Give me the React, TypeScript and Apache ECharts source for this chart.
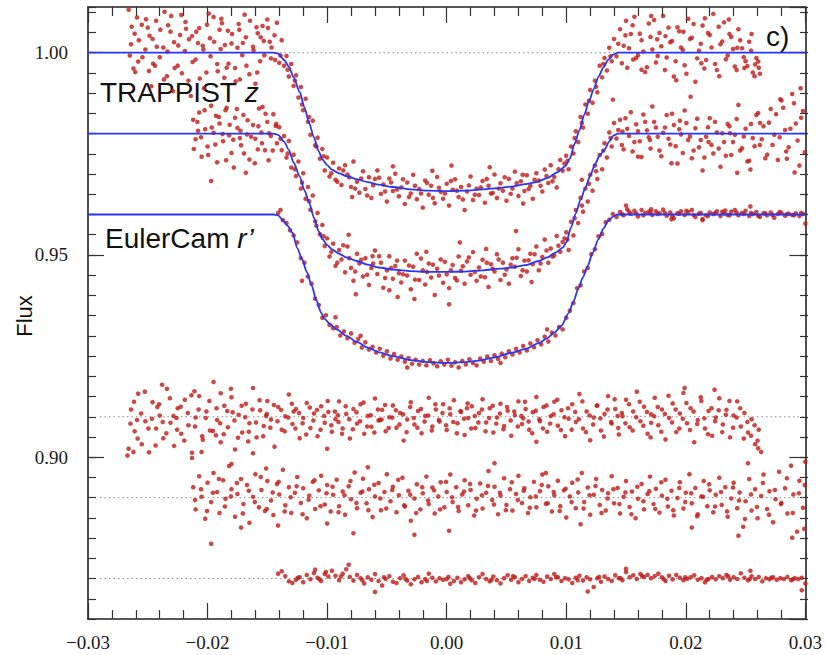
import React, { useEffect, useRef } from "react";
import * as echarts from "echarts";

// ---------- axis settings ----------
const xMin = -0.03;
const xMax = 0.03;
const xMajor = 0.01;
const yMin = 0.86;
const yMax = 1.0113;
const yMinor = 0.005;

// ---------- dotted reference levels (residual zero lines) ----------
const baselineLevels = [1.0, 0.91, 0.89, 0.87];
const baselineStart = -0.029;

// ---------- labels ----------
const yTitle = "Flux";
const panelTag = "c)";
const labelTop = ["TRAPPIST ", "z"];
const labelBottom = ["EulerCam ", "r\u2019"];

// ---------- model curves (blue) ----------
const model1: number[][] = [
  [-.03, 1.0], [-.0145, 1.0], [-.0141, .9998], [-.0136, .9982], [-.0132, .9966], [-.0128, .9939], [-.0123, .9903],
  [-.0119, .9865], [-.0115, .9826], [-.0111, .9790], [-.0107, .9756], [-.0104, .9736], [-.0100, .9722],
  [-.0096, .9711], [-.0090, .9702], [-.0084, .9695], [-.0075, .9687], [-.0066, .9680], [-.0057, .9674],
  [-.0045, .9668], [-.0030, .9662], [-.0015, .9659], [0, .9658], [.0015, .9659], [.0030, .9662],
  [.0045, .9666], [.0054, .9669], [.0066, .9675], [.0075, .9680], [.0084, .9690], [.0093, .9705],
  [.0099, .9719], [.0103, .9738], [.0107, .9775], [.0111, .9808], [.0115, .9846], [.0119, .9880],
  [.0123, .9910], [.0127, .9941], [.0131, .9963], [.0135, .9982], [.0139, .9995], [.0143, 1.0],
  [.03, 1.0],
];
const model2: number[][] = [
  [-.03, .98], [-.0145, .98], [-.0141, .9797], [-.0136, .9780], [-.0132, .9760], [-.0128, .9728], [-.0123, .9695],
  [-.0119, .9660], [-.0115, .9629], [-.0111, .9592], [-.0107, .9558], [-.0104, .9539], [-.0100, .9525],
  [-.0096, .9514], [-.0090, .9503], [-.0084, .9494], [-.0075, .9485], [-.0066, .9476], [-.0057, .9469],
  [-.0045, .9464], [-.0030, .9460], [-.0015, .9458], [0, .9458], [.0015, .9459], [.0030, .9462],
  [.0045, .9466], [.0054, .9469], [.0066, .9475], [.0077, .9485], [.0084, .9494], [.0091, .9506],
  [.0097, .9518], [.0100, .9531], [.0104, .9568], [.0108, .9603], [.0112, .9637], [.0116, .9666],
  [.0120, .9696], [.0124, .9724], [.0128, .9746], [.0132, .9760], [.0136, .9781], [.0140, .9796],
  [.0143, .98], [.03, .98],
];
const model3: number[][] = [
  [-.03, .96], [-.0145, .96], [-.0141, .9598], [-.0137, .9586], [-.0133, .9572], [-.0129, .9555], [-.0125, .9517],
  [-.0121, .9490], [-.0117, .9458], [-.0113, .9425], [-.0109, .9388], [-.0105, .9357], [-.0102, .9342],
  [-.0098, .9330], [-.0092, .9316], [-.0084, .9300], [-.0075, .9285], [-.0066, .9271], [-.0057, .9260],
  [-.0045, .9250], [-.0030, .9240], [-.0015, .9235], [0, .9233], [.0015, .9235], [.0027, .9239],
  [.0040, .9247], [.0054, .9258], [.0066, .9268], [.0077, .9282], [.0084, .9294], [.0090, .9308],
  [.0096, .9325], [.0102, .9356], [.0106, .9385], [.0110, .9416], [.0114, .9445], [.0118, .9473],
  [.0122, .9505], [.0127, .9539], [.0131, .9565], [.0135, .9584], [.0139, .9595], [.0143, .96],
  [.03, .96],
];

// ---------- TRAPPIST z light curve ----------
const trappistZ: number[][] = [
  [-.0266, 1.0106], [-.0264, 1.0021], [-.0261, 1.0047], [-.0258, .9978], [-.0255, 1.0069], [-.0252, 1.0008],
  [-.0249, .9955], [-.0246, 1.0034], [-.0243, 1.0079], [-.0240, .9989], [-.0237, 1.0013], [-.0234, .9942],
  [-.0231, 1.0052], [-.0228, 1.0026], [-.0225, .9968], [-.0222, 1.0093], [-.0219, 1.0004], [-.0216, .9931],
  [-.0213, 1.0041], [-.0210, .9983], [-.0207, 1.0061], [-.0204, 1.0017], [-.0201, .9951], [-.0198, 1.0036],
  [-.0195, 1.0088], [-.0192, .9972], [-.0189, 1.0009], [-.0186, .9938], [-.0183, 1.0054], [-.0180, 1.0023],
  [-.0177, .9962], [-.0174, 1.0071], [-.0171, .9994], [-.0168, 1.0038], [-.0165, .9947], [-.0162, 1.0015],
  [-.0159, 1.0063], [-.0156, .9979], [-.0153, 1.0029], [-.0150, 1.0082], [-.0147, .9986], [-.0144, 1.0043],
  [-.0265, .9993], [-.0259, 1.0087], [-.0250, 1.0062], [-.0244, .9968], [-.0236, 1.0101], [-.0229, .9905],
  [-.0223, 1.0044], [-.0214, .9893], [-.0208, 1.0024], [-.0199, 1.0097], [-.0190, 1.0057], [-.0184, .9963],
  [-.0175, 1.0012], [-.0169, 1.0094], [-.0160, .9923], [-.0154, 1.0066], [-.0148, 1.0027], [-.0142, 1.0074],
  [-.0262, .9961], [-.0247, .9917], [-.0233, 1.0068], [-.0218, 1.0059], [-.0203, .9912], [-.0188, 1.0073],
  [-.0173, .9934], [-.0158, 1.0048],
  [-.02635, 1.0064], [-.02605, .9952], [-.02575, 1.0031], [-.02545, .9989], [-.02515, 1.0083], [-.02485, 1.0042],
  [-.02455, .9973], [-.02425, 1.0015], [-.02395, 1.0057], [-.02365, .9934], [-.02335, 1.0003], [-.02305, 1.0091],
  [-.02275, .9962], [-.02245, 1.0018], [-.02215, .9949], [-.02185, 1.0076], [-.02155, 1.0033], [-.02125, .9977],
  [-.02095, 1.0052], [-.02065, .9936], [-.02035, 1.0008], [-.02005, 1.0069], [-.01975, .9991], [-.01945, 1.0027],
  [-.01915, .9954], [-.01885, 1.0084], [-.01855, 1.0019], [-.01825, .9973], [-.01795, 1.0046], [-.01765, .9929],
  [-.01735, 1.0057], [-.01705, 1.0024], [-.01675, .9968], [-.01645, 1.0079], [-.01615, 1.0006], [-.01585, .9951],
  [-.01555, 1.0038], [-.01525, .9994], [-.01495, 1.0061], [-.01465, 1.0013], [-.01435, .9982],
  [-.0140, .9975], [-.0138, 1.0031], [-.0136, .9968], [-.0134, .9992], [-.0132, .9941], [-.0130, .9972],
  [-.0128, .9918], [-.0126, .9944], [-.0124, .9889], [-.0122, .9915], [-.0120, .9858], [-.0118, .9886],
  [-.0116, .9829], [-.0114, .9797], [-.0112, .9832], [-.0110, .9771], [-.0108, .9790], [-.0106, .9738],
  [-.0104, .9762], [-.0102, .9709], [-.0139, .9993], [-.0133, .9958], [-.0127, .9931], [-.0121, .9872],
  [-.0115, .9841], [-.0109, .9768], [-.0103, .9744],
  [-.0100, .9741], [-.0098, .9694], [-.0095, .9728], [-.0093, .9686], [-.0090, .9714], [-.0088, .9673],
  [-.0085, .9722], [-.0083, .9699], [-.0080, .9668], [-.0078, .9731], [-.0075, .9681], [-.0073, .9654],
  [-.0070, .9707], [-.0068, .9663], [-.0065, .9692], [-.0063, .9641], [-.0060, .9688], [-.0058, .9709],
  [-.0055, .9651], [-.0053, .9674], [-.0050, .9632], [-.0048, .9689], [-.0045, .9658], [-.0043, .9701],
  [-.0040, .9645], [-.0038, .9667], [-.0035, .9626], [-.0033, .9679], [-.0030, .9652], [-.0028, .9698],
  [-.0025, .9638], [-.0023, .9663], [-.0020, .9617], [-.0018, .9684], [-.0015, .9649], [-.0013, .9671],
  [-.0010, .9628], [-.0008, .9693], [-.0005, .9656], [-.0003, .9639], [0, .9676], [.0002, .9622],
  [.0005, .9661], [.0007, .9687], [.0010, .9643], [.0012, .9668], [.0015, .9611], [.0017, .9657],
  [.0020, .9694], [.0022, .9636], [.0025, .9664], [.0027, .9648], [.0030, .9683], [.0032, .9629],
  [.0035, .9671], [.0037, .9652], [.0040, .9699], [.0042, .9641], [.0045, .9677], [.0047, .9659],
  [.0050, .9634], [.0052, .9688], [.0055, .9664], [.0057, .9706], [.0060, .9646], [.0062, .9682],
  [.0065, .9658], [.0067, .9697], [.0070, .9671], [.0072, .9639], [.0075, .9702], [.0077, .9684],
  [.0080, .9657], [.0082, .9711], [.0085, .9678], [.0087, .9722], [.0090, .9693], [.0092, .9667],
  [.0095, .9735], [.0097, .9708], [.0004, .9721], [-.0045, .9719], [.0036, .9717], [-.0079, .9643],
  [.0064, .9627], [-.0012, .9708],
  [-.00965, .9702], [-.00915, .9681], [-.00865, .9709], [-.00815, .9692], [-.00765, .9664], [-.00715, .9689],
  [-.00665, .9647], [-.00615, .9672], [-.00565, .9691], [-.00515, .9657], [-.00465, .9679], [-.00415, .9662],
  [-.00365, .9687], [-.00315, .9643], [-.00265, .9671], [-.00215, .9652], [-.00165, .9678], [-.00115, .9641],
  [-.00065, .9666], [-.00015, .9652], [.00035, .9683], [.00085, .9659], [.00135, .9637], [.00185, .9672],
  [.00235, .9649], [.00285, .9667], [.00335, .9688], [.00385, .9653], [.00435, .9664], [.00485, .9692],
  [.00535, .9651], [.00585, .9677], [.00635, .9698], [.00685, .9663], [.00735, .9686], [.00785, .9671],
  [.00835, .9695], [.00885, .9682], [.00935, .9712], [.00985, .9726],
  [.0100, .9745], [.0102, .9712], [.0104, .9768], [.0106, .9751], [.0108, .9806], [.0110, .9779],
  [.0112, .9841], [.0114, .9815], [.0116, .9872], [.0118, .9849], [.0120, .9908], [.0122, .9876],
  [.0124, .9931], [.0126, .9902], [.0128, .9968], [.0130, .9939], [.0132, .9987], [.0134, .9956],
  [.0136, 1.0012], [.0138, .9979], [.0140, 1.0034], [.0101, .9732], [.0107, .9789], [.0113, .9826],
  [.0119, .9881], [.0125, .9916], [.0131, .9972], [.0137, .9991],
  [.0142, .9991], [.0145, 1.0058], [.0148, 1.0017], [.0151, .9963], [.0154, 1.0046], [.0157, 1.0089],
  [.0160, .9994], [.0163, 1.0031], [.0166, .9952], [.0169, 1.0072], [.0172, 1.0008], [.0175, .9976],
  [.0178, 1.0049], [.0181, 1.0091], [.0184, .9988], [.0187, 1.0026], [.0190, .9941], [.0193, 1.0063],
  [.0196, 1.0013], [.0199, .9969], [.0202, 1.0084], [.0205, 1.0037], [.0208, .9928], [.0211, 1.0005],
  [.0214, 1.0067], [.0217, .9982], [.0220, 1.0044], [.0223, 1.0096], [.0226, .9957], [.0229, 1.0021],
  [.0232, 1.0075], [.0235, .9993], [.0238, 1.0039], [.0241, .9966], [.0244, 1.0058], [.0247, 1.0011],
  [.0250, .9979], [.0253, 1.0027], [.0256, .9951], [.0259, .9987], [.0262, .9948],
  [.0150, 1.0079], [.0163, .9958], [.0171, 1.0091], [.0183, 1.0041], [.0192, .9932], [.0204, .9891],
  [.0216, 1.0085], [.0228, .9942], [.0236, 1.0082], [.0243, 1.0012], [.0249, .9962], [.0255, 1.0046],
  [.0258, .9971], [.0261, .9963], [.0156, .9983], [.0176, 1.0033], [.0198, 1.0052], [.0213, .9974],
  [.01435, 1.0022], [.01465, .9974], [.01495, 1.0043], [.01525, 1.0011], [.01555, 1.0068], [.01585, .9987],
  [.01615, 1.0047], [.01645, 1.0003], [.01675, .9964], [.01705, 1.0039], [.01735, 1.0081], [.01765, .9992],
  [.01795, 1.0016], [.01825, .9957], [.01855, 1.0062], [.01885, 1.0029], [.01915, .9979], [.01945, 1.0053],
  [.01975, 1.0007], [.02005, .9948], [.02035, 1.0034], [.02065, 1.0071], [.02095, .9986], [.02125, 1.0022],
  [.02155, .9961], [.02185, 1.0049], [.02215, 1.0013], [.02245, .9972], [.02275, 1.0064], [.02305, 1.0028],
  [.02335, .9984], [.02365, 1.0046], [.02395, 1.0009], [.02425, .9957], [.02455, 1.0031], [.02485, .9989],
  [.02515, .9967], [.02545, 1.0005], [.02575, .9942], [.02605, .9978],
];

// ---------- second light curve (offset 0.98) ----------
const middleCurve: number[][] = [
  [-.0212, .9834], [-.0210, .9786], [-.0207, .9852], [-.0205, .9743], [-.0202, .9811], [-.0200, .9768],
  [-.0197, .9869], [-.0195, .9802], [-.0192, .9729], [-.0190, .9825], [-.0187, .9781], [-.0185, .9858],
  [-.0182, .9796], [-.0180, .9752], [-.0177, .9839], [-.0175, .9814], [-.0172, .9771], [-.0170, .9846],
  [-.0167, .9798], [-.0165, .9736], [-.0162, .9821], [-.0160, .9787], [-.0157, .9862], [-.0155, .9803],
  [-.0152, .9759], [-.0150, .9829], [-.0147, .9794], [-.0145, .9848], [-.0142, .9776],
  [-.0197, .9683], [-.0178, .9716], [-.0168, .9703], [-.0149, .9734], [-.0184, .9864], [-.0154, .9866],
  [-.0208, .9807], [-.0193, .9844], [-.0173, .9789], [-.0158, .9761], [-.0143, .9819],
  [-.02115, .9762], [-.02085, .9829], [-.02055, .9791], [-.02025, .9858], [-.01995, .9747], [-.01965, .9815],
  [-.01935, .9773], [-.01905, .9841], [-.01875, .9799], [-.01845, .9734], [-.01815, .9822], [-.01785, .9785],
  [-.01755, .9861], [-.01725, .9807], [-.01695, .9751], [-.01665, .9833], [-.01635, .9792], [-.01605, .9727],
  [-.01575, .9818], [-.01545, .9776], [-.01515, .9849], [-.01485, .9801], [-.01455, .9758], [-.01425, .9824],
  [-.0140, .9816], [-.0138, .9759], [-.0136, .9794], [-.0134, .9741], [-.0132, .9782], [-.0130, .9716],
  [-.0128, .9748], [-.0126, .9695], [-.0124, .9731], [-.0122, .9664], [-.0120, .9702], [-.0118, .9639],
  [-.0116, .9668], [-.0114, .9612], [-.0112, .9647], [-.0110, .9583], [-.0108, .9604], [-.0106, .9551],
  [-.0104, .9574], [-.0102, .9522], [-.0139, .9787], [-.0133, .9751], [-.0127, .9712], [-.0121, .9679],
  [-.0115, .9633], [-.0109, .9572], [-.0103, .9546],
  [-.0100, .9541], [-.0098, .9496], [-.0095, .9528], [-.0093, .9473], [-.0090, .9512], [-.0088, .9489],
  [-.0085, .9457], [-.0083, .9521], [-.0080, .9468], [-.0078, .9436], [-.0075, .9503], [-.0073, .9479],
  [-.0070, .9447], [-.0068, .9492], [-.0065, .9426], [-.0063, .9468], [-.0060, .9511], [-.0058, .9453],
  [-.0055, .9481], [-.0053, .9419], [-.0050, .9462], [-.0048, .9497], [-.0045, .9441], [-.0043, .9473],
  [-.0040, .9455], [-.0038, .9432], [-.0035, .9486], [-.0033, .9449], [-.0030, .9415], [-.0028, .9471],
  [-.0025, .9503], [-.0023, .9438], [-.0020, .9462], [-.0018, .9427], [-.0015, .9479], [-.0013, .9444],
  [-.0010, .9401], [-.0008, .9466], [-.0005, .9489], [-.0003, .9431], [0, .9452], [.0002, .9418],
  [.0005, .9475], [.0007, .9443], [.0010, .9496], [.0012, .9461], [.0015, .9429], [.0017, .9484],
  [.0020, .9451], [.0022, .9507], [.0025, .9436], [.0027, .9469], [.0030, .9488], [.0032, .9445],
  [.0035, .9421], [.0037, .9477], [.0040, .9459], [.0042, .9502], [.0045, .9438], [.0047, .9481],
  [.0050, .9464], [.0052, .9429], [.0055, .9492], [.0057, .9471], [.0060, .9514], [.0062, .9448],
  [.0065, .9486], [.0067, .9459], [.0070, .9503], [.0072, .9477], [.0075, .9521], [.0077, .9462],
  [.0080, .9495], [.0082, .9538], [.0085, .9481], [.0087, .9516], [.0090, .9499], [.0092, .9547],
  [.0095, .9508], [.0097, .9532],
  [-.0076, .9403], [-.0027, .9391], [.0002, .9378], [-.0048, .9413], [.0011, .9531], [.0058, .9559],
  [-.0082, .9550], [-.0062, .9497], [-.0017, .9508], [.0033, .9515], [.0071, .9433], [-.0041, .9396],
  [-.00965, .9507], [-.00915, .9481], [-.00865, .9524], [-.00815, .9492], [-.00765, .9459], [-.00715, .9488],
  [-.00665, .9451], [-.00615, .9479], [-.00565, .9497], [-.00515, .9443], [-.00465, .9468], [-.00415, .9486],
  [-.00365, .9452], [-.00315, .9474], [-.00265, .9439], [-.00215, .9491], [-.00165, .9458], [-.00115, .9476],
  [-.00065, .9449], [-.00015, .9483], [.00035, .9462], [.00085, .9437], [.00135, .9472], [.00185, .9494],
  [.00235, .9458], [.00285, .9447], [.00335, .9481], [.00385, .9466], [.00435, .9489], [.00485, .9451],
  [.00535, .9476], [.00585, .9493], [.00635, .9462], [.00685, .9487], [.00735, .9502], [.00785, .9479],
  [.00835, .9511], [.00885, .9496], [.00935, .9523], [.00985, .9541],
  [.0100, .9556], [.0102, .9512], [.0104, .9582], [.0106, .9548], [.0108, .9611], [.0110, .9579],
  [.0112, .9641], [.0114, .9607], [.0116, .9664], [.0118, .9632], [.0120, .9698], [.0122, .9659],
  [.0124, .9721], [.0126, .9688], [.0128, .9747], [.0130, .9712], [.0132, .9776], [.0134, .9741],
  [.0136, .9803], [.0138, .9768], [.0140, .9826], [.0139, .9884], [.0113, .9686],
  [.0101, .9538], [.0107, .9591], [.0113, .9622], [.0119, .9676], [.0125, .9707], [.0131, .9758], [.0137, .9789],
  [.0142, .9788], [.0145, .9834], [.0148, .9761], [.0151, .9812], [.0154, .9853], [.0157, .9779],
  [.0160, .9806], [.0163, .9742], [.0166, .9829], [.0169, .9791], [.0172, .9867], [.0175, .9815],
  [.0178, .9758], [.0181, .9802], [.0184, .9846], [.0187, .9773], [.0190, .9821], [.0193, .9726],
  [.0196, .9798], [.0199, .9857], [.0202, .9784], [.0205, .9739], [.0208, .9813], [.0211, .9766],
  [.0214, .9709], [.0217, .9792], [.0220, .9838], [.0223, .9751], [.0226, .9803], [.0229, .9718],
  [.0232, .9779], [.0235, .9824], [.0238, .9747], [.0241, .9797], [.0244, .9871], [.0247, .9764],
  [.0250, .9812], [.0253, .9733], [.0256, .9789], [.0259, .9846], [.0262, .9772], [.0265, .9818],
  [.0268, .9748], [.0271, .9861], [.0274, .9797], [.0277, .9735], [.0280, .9882], [.0283, .9809],
  [.0286, .9766], [.0289, .9898], [.0292, .9825], [.0295, .9721], [.0298, .9856],
  [.0243, .9703], [.0254, .9711], [.0291, .9704], [.0279, .9885], [.0296, .9912], [.0188, .9727],
  [.0160, .9743], [.0147, .9805], [.0170, .9784], [.0195, .9832], [.0219, .9779], [.0237, .9801],
  [.0262, .9826], [.0284, .9756],
  [.01435, .9809], [.01465, .9772], [.01495, .9838], [.01525, .9794], [.01555, .9756], [.01585, .9823],
  [.01615, .9781], [.01645, .9847], [.01675, .9808], [.01705, .9763], [.01735, .9829], [.01765, .9792],
  [.01795, .9744], [.01825, .9815], [.01855, .9787], [.01885, .9849], [.01915, .9769], [.01945, .9811],
  [.01975, .9752], [.02005, .9826], [.02035, .9793], [.02065, .9758], [.02095, .9837], [.02125, .9784],
  [.02155, .9741], [.02185, .9816], [.02215, .9772], [.02245, .9829], [.02275, .9763], [.02305, .9801],
  [.02335, .9745], [.02365, .9818], [.02395, .9779], [.02425, .9836], [.02455, .9758], [.02485, .9793],
  [.02515, .9731], [.02545, .9824], [.02575, .9769], [.02605, .9851], [.02635, .9786], [.02665, .9739],
  [.02695, .9827], [.02725, .9772], [.02755, .9848], [.02785, .9791], [.02815, .9864], [.02845, .9738],
  [.02875, .9812], [.02905, .9875], [.02935, .9783], [.02965, .9839], [.02995, .9754],
];

// ---------- EulerCam r' light curve ----------
const eulerCam: number[][] = [
  [-.0141, .9604], [-.0139, .9611], [-.0137, .9586], [-.0134, .9579], [-.0131, .9561], [-.0128, .9548],
  [-.0125, .9531], [-.0122, .9492], [-.0119, .9481], [-.0116, .9447], [-.0113, .9429], [-.0110, .9392],
  [-.0107, .9376], [-.0104, .9345], [-.0101, .9351], [-.0098, .9327], [-.0095, .9319], [-.0092, .9322],
  [-.0089, .9301], [-.0086, .9311], [-.0083, .9294], [-.0080, .9306], [-.0077, .9283], [-.0074, .9292],
  [-.0071, .9271], [-.0068, .9284], [-.0065, .9266], [-.0062, .9273], [-.0059, .9259], [-.0056, .9268],
  [-.0053, .9251], [-.0050, .9262], [-.0047, .9244], [-.0044, .9255], [-.0041, .9241], [-.0038, .9249],
  [-.0035, .9236], [-.0032, .9245], [-.0029, .9231], [-.0026, .9241], [-.0023, .9229], [-.0020, .9238],
  [-.0017, .9227], [-.0014, .9240], [-.0011, .9232], [-.0008, .9225], [-.0005, .9237], [-.0002, .9229],
  [.0001, .9241], [.0004, .9226], [.0007, .9235], [.0010, .9222], [.0013, .9238], [.0016, .9229],
  [.0019, .9242], [.0022, .9233], [.0025, .9227], [.0028, .9244], [.0031, .9236], [.0034, .9249],
  [.0037, .9238], [.0040, .9252], [.0043, .9243], [.0046, .9256], [.0049, .9247], [.0052, .9262],
  [.0055, .9254], [.0058, .9268], [.0061, .9259], [.0064, .9275], [.0067, .9264], [.0070, .9281],
  [.0073, .9272], [.0076, .9289], [.0079, .9279], [.0082, .9298], [.0085, .9286], [.0088, .9308],
  [.0091, .9301], [.0094, .9322], [.0097, .9316], [.0100, .9345], [.0103, .9362], [.0106, .9381],
  [.0109, .9418], [.0112, .9425], [.0115, .9459], [.0118, .9468], [.0121, .9502], [.0124, .9514],
  [.0127, .9546], [.0130, .9552], [.0133, .9581], [.0136, .9587], [.0139, .9601], [.0142, .9594],
  [-.0121, .9436], [-.0093, .9346], [-.0072, .9300], [-.0033, .9222], [.0045, .9233], [.0084, .9316],
  [.0145, .9606], [.0148, .9598], [.0151, .9613], [.0154, .9602], [.0157, .9609], [.0160, .9595],
  [.0163, .9611], [.0166, .9604], [.0169, .9607], [.0172, .9599], [.0175, .9608], [.0178, .9603],
  [.0181, .9612], [.0184, .9597], [.0187, .9605], [.0190, .9591], [.0193, .9603], [.0196, .9608],
  [.0199, .9599], [.0202, .9606], [.0205, .9611], [.0208, .9594], [.0211, .9602], [.0214, .9589],
  [.0217, .9598], [.0220, .9605], [.0223, .9601], [.0226, .9608], [.0229, .9596], [.0232, .9603],
  [.0235, .9599], [.0238, .9607], [.0241, .9611], [.0244, .9598], [.0247, .9604], [.0250, .9609],
  [.0253, .9596], [.0256, .9601], [.0259, .9606], [.0262, .9594], [.0265, .9603], [.0268, .9598],
  [.0271, .9605], [.0274, .9592], [.0277, .9601], [.0280, .9604], [.0283, .9597], [.0286, .9602],
  [.0289, .9599], [.0292, .9603], [.0295, .9596], [.0298, .9601], [.0300, .9578],
  [.0150, .9622], [.0188, .9588], [.0214, .9586], [.0254, .9620], [.0171, .9613], [.0233, .9610],
  [.01465, .9601], [.01525, .9607], [.01585, .9603], [.01645, .9598], [.01705, .9606], [.01765, .9601],
  [.01825, .9604], [.01885, .9597], [.01945, .9602], [.02005, .9609], [.02065, .9599], [.02125, .9604],
  [.02185, .9596], [.02245, .9603], [.02305, .9607], [.02365, .9598], [.02425, .9605], [.02485, .9601],
  [.02545, .9604], [.02605, .9597], [.02665, .9603], [.02725, .9599], [.02785, .9606], [.02845, .9601],
  [.02905, .9598], [.02965, .9604],
];

// ---------- residuals ----------
const resTrappistZ: number[][] = [
  [-.0266, .9021], [-.0264, .9118], [-.0261, .9064], [-.0258, .9157], [-.0255, .9032], [-.0252, .9089],
  [-.0249, .9012], [-.0246, .9136], [-.0243, .9071], [-.0240, .9103], [-.0237, .9047], [-.0234, .9169],
  [-.0231, .9085], [-.0228, .9028], [-.0225, .9121], [-.0222, .9058], [-.0219, .9142], [-.0216, .9079],
  [-.0213, .9011], [-.0210, .9098], [-.0207, .9151], [-.0204, .9043], [-.0201, .9113], [-.0198, .9066],
  [-.0195, .9186], [-.0192, .9092], [-.0189, .9037], [-.0186, .9127], [-.0183, .9074], [-.0180, .9148],
  [-.0177, .9019], [-.0174, .9105], [-.0171, .9061], [-.0168, .9132], [-.0165, .9084], [-.0162, .9171],
  [-.0159, .9049], [-.0156, .9116], [-.0153, .9077], [-.0150, .9139], [-.0147, .9093], [-.0144, .9026],
  [-.0267, .9004], [-.0262, .9013], [-.0213, .8998], [-.0205, .9013], [-.0162, .9010], [-.0259, .9092],
  [-.0242, .9124], [-.0226, .9097], [-.0211, .9163], [-.0193, .9054], [-.0179, .9111], [-.0166, .9039],
  [-.0151, .9102], [-.0238, .9179], [-.0189, .9158],
  [-.02645, .9083], [-.02615, .9137], [-.02585, .9046], [-.02555, .9108], [-.02525, .9162], [-.02495, .9071],
  [-.02465, .9095], [-.02435, .9029], [-.02405, .9131], [-.02375, .9087], [-.02345, .9059], [-.02315, .9146],
  [-.02285, .9102], [-.02255, .9068], [-.02225, .9125], [-.02195, .9041], [-.02165, .9109], [-.02135, .9153],
  [-.02105, .9076], [-.02075, .9118], [-.02045, .9052], [-.02015, .9097], [-.01985, .9139], [-.01955, .9065],
  [-.01925, .9121], [-.01895, .9084], [-.01865, .9057], [-.01835, .9114], [-.01805, .9169], [-.01775, .9091],
  [-.01745, .9048], [-.01715, .9127], [-.01685, .9099], [-.01655, .9063], [-.01625, .9118], [-.01595, .9086],
  [-.01565, .9141], [-.01535, .9052], [-.01505, .9107], [-.01475, .9073], [-.01445, .9129],
  [-.0141, .9124], [-.0138, .9068], [-.0135, .9101], [-.0132, .9155], [-.0129, .9082], [-.0126, .9119],
  [-.0123, .9047], [-.0120, .9097], [-.0117, .9134], [-.0114, .9072], [-.0111, .9108], [-.0108, .9052],
  [-.0105, .9126], [-.0102, .9085], [-.0099, .9112], [-.0096, .9063], [-.0093, .9094], [-.0090, .9138],
  [-.0087, .9071], [-.0084, .9107], [-.0081, .9046], [-.0078, .9119], [-.0075, .9083], [-.0072, .9131],
  [-.0069, .9058], [-.0066, .9102], [-.0063, .9075], [-.0060, .9145], [-.0057, .9091], [-.0054, .9117],
  [-.0051, .9064], [-.0048, .9099], [-.0045, .9128], [-.0042, .9073], [-.0039, .9109], [-.0036, .9041],
  [-.0033, .9093], [-.0030, .9136], [-.0027, .9081], [-.0024, .9114], [-.0021, .9059], [-.0018, .9102],
  [-.0015, .9147], [-.0012, .9076], [-.0009, .9118], [-.0006, .9088], [-.0003, .9131], [0, .9067],
  [.0003, .9106], [.0006, .9141], [.0009, .9084], [.0012, .9112], [.0015, .9055], [.0018, .9097],
  [.0021, .9126], [.0024, .9072], [.0027, .9109], [.0030, .9143], [.0033, .9086], [.0036, .9121],
  [.0039, .9061], [.0042, .9098], [.0045, .9132], [.0048, .9077], [.0051, .9115], [.0054, .9053],
  [.0057, .9104], [.0060, .9138], [.0063, .9082], [.0066, .9119], [.0069, .9068], [.0072, .9111],
  [.0075, .9149], [.0078, .9089], [.0081, .9124], [.0084, .9063], [.0087, .9102], [.0090, .9137],
  [.0093, .9078], [.0096, .9116], [.0099, .9052], [-.0100, .9021], [.0075, .9038], [-.0128, .9113],
  [-.0056, .9092], [.0017, .9121], [.0064, .9096], [-.0091, .9104],
  [-.01415, .9089], [-.01385, .9117], [-.01355, .9064], [-.01325, .9098], [-.01295, .9132], [-.01265, .9071],
  [-.01235, .9109], [-.01205, .9084], [-.01175, .9056], [-.01145, .9123], [-.01115, .9091], [-.01085, .9117],
  [-.01055, .9068], [-.01025, .9102], [-.00995, .9139], [-.00965, .9079], [-.00935, .9113], [-.00905, .9087],
  [-.00875, .9058], [-.00845, .9126], [-.00815, .9094], [-.00785, .9069], [-.00755, .9111], [-.00725, .9089],
  [-.00695, .9135], [-.00665, .9076], [-.00635, .9104], [-.00605, .9061], [-.00575, .9118], [-.00545, .9093],
  [-.00515, .9129], [-.00485, .9072], [-.00455, .9098], [-.00425, .9116], [-.00395, .9081], [-.00365, .9106],
  [-.00335, .9062], [-.00305, .9124], [-.00275, .9097], [-.00245, .9073], [-.00215, .9119], [-.00185, .9088],
  [-.00155, .9103], [-.00125, .9066], [-.00095, .9131], [-.00065, .9092], [-.00035, .9109], [-.00005, .9079],
  [.00025, .9121], [.00055, .9087], [.00085, .9059], [.00115, .9114], [.00145, .9095], [.00175, .9133],
  [.00205, .9071], [.00235, .9102], [.00265, .9086], [.00295, .9118], [.00325, .9064], [.00355, .9097],
  [.00385, .9127], [.00415, .9083], [.00445, .9108], [.00475, .9069], [.00505, .9124], [.00535, .9091],
  [.00565, .9113], [.00595, .9076], [.00625, .9102], [.00655, .9137], [.00685, .9088], [.00715, .9059],
  [.00745, .9115], [.00775, .9094], [.00805, .9071], [.00835, .9128], [.00865, .9083], [.00895, .9106],
  [.00925, .9142], [.00955, .9067], [.00985, .9099],
  [.0102, .9095], [.0105, .9131], [.0108, .9087], [.0111, .9156], [.0114, .9071], [.0117, .9113],
  [.0120, .9042], [.0123, .9098], [.0126, .9128], [.0129, .9066], [.0132, .9107], [.0135, .9151],
  [.0138, .9083], [.0141, .9119], [.0144, .9056], [.0147, .9101], [.0150, .9142], [.0153, .9074],
  [.0156, .9113], [.0159, .9162], [.0162, .9089], [.0165, .9125], [.0168, .9058], [.0171, .9106],
  [.0174, .9147], [.0177, .9079], [.0180, .9118], [.0183, .9044], [.0186, .9097], [.0189, .9133],
  [.0192, .9062], [.0195, .9108], [.0198, .9159], [.0201, .9084], [.0204, .9121], [.0207, .9037],
  [.0210, .9092], [.0213, .9139], [.0216, .9071], [.0219, .9114], [.0222, .9053], [.0225, .9098],
  [.0228, .9146], [.0231, .9081], [.0234, .9117], [.0237, .9049], [.0240, .9103], [.0243, .9138],
  [.0246, .9076], [.0249, .9109], [.0252, .9061], [.0255, .9094], [.0258, .9032], [.0261, .9068],
  [.0263, .9013], [.0260, .9041], [.0199, .9171], [.0224, .9167], [.0171, .9085], [.0143, .9102],
  [.01015, .9121], [.01045, .9068], [.01075, .9112], [.01105, .9094], [.01135, .9138], [.01165, .9062],
  [.01195, .9103], [.01225, .9081], [.01255, .9127], [.01285, .9096], [.01315, .9051], [.01345, .9118],
  [.01375, .9087], [.01405, .9143], [.01435, .9072], [.01465, .9109], [.01495, .9084], [.01525, .9131],
  [.01555, .9066], [.01585, .9099], [.01615, .9137], [.01645, .9078], [.01675, .9112], [.01705, .9049],
  [.01735, .9101], [.01765, .9124], [.01795, .9063], [.01825, .9107], [.01855, .9152], [.01885, .9086],
  [.01915, .9118], [.01945, .9071], [.01975, .9095], [.02005, .9134], [.02035, .9067], [.02065, .9113],
  [.02095, .9082], [.02125, .9148], [.02155, .9096], [.02185, .9057], [.02215, .9121], [.02245, .9089],
  [.02275, .9116], [.02305, .9062], [.02335, .9105], [.02365, .9139], [.02395, .9073], [.02425, .9098],
  [.02455, .9121], [.02485, .9046], [.02515, .9087], [.02545, .9053], [.02575, .9079], [.02605, .9022],
];

const resMiddle: number[][] = [
  [-.0212, .8926], [-.0210, .8871], [-.0207, .8953], [-.0205, .8902], [-.0202, .8848], [-.0200, .8937],
  [-.0197, .8889], [-.0195, .8961], [-.0192, .8914], [-.0190, .8862], [-.0187, .8943], [-.0185, .8897],
  [-.0182, .8978], [-.0180, .8921], [-.0177, .8853], [-.0175, .8909], [-.0172, .8946], [-.0170, .8884],
  [-.0167, .8931], [-.0165, .8838], [-.0162, .8902], [-.0160, .8958], [-.0157, .8876], [-.0155, .8919],
  [-.0152, .8867], [-.0150, .8941], [-.0147, .8893], [-.0145, .8857], [-.0142, .8934], [-.0140, .8908],
  [-.0137, .8969], [-.0135, .8881], [-.0132, .8926], [-.0130, .8862], [-.0127, .8912], [-.0125, .8951],
  [-.0122, .8887], [-.0120, .8923], [-.0117, .8849], [-.0115, .8905], [-.0112, .8939], [-.0110, .8872],
  [-.0107, .8918], [-.0105, .8954], [-.0102, .8883], [-.0100, .8931], [-.0097, .8866], [-.0095, .8907],
  [-.0092, .8944], [-.0090, .8879], [-.0087, .8915], [-.0085, .8858], [-.0082, .8928], [-.0080, .8896],
  [-.0077, .8962], [-.0075, .8874], [-.0072, .8912], [-.0070, .8947], [-.0067, .8886], [-.0065, .8921],
  [-.0062, .8852], [-.0060, .8903], [-.0057, .8936], [-.0055, .8869], [-.0052, .8914], [-.0050, .8958],
  [-.0047, .8891], [-.0045, .8927], [-.0042, .8864], [-.0040, .8906], [-.0037, .8949], [-.0035, .8878],
  [-.0032, .8917], [-.0030, .8843], [-.0027, .8898], [-.0025, .8933], [-.0022, .8871], [-.0020, .8911],
  [-.0017, .8952], [-.0015, .8884], [-.0012, .8925], [-.0010, .8861], [-.0007, .8903], [-.0005, .8938],
  [-.0002, .8876], [0, .8914], [.0003, .8957], [.0005, .8889], [.0008, .8926], [.0010, .8867],
  [.0013, .8908], [.0015, .8943], [.0018, .8881], [.0020, .8919], [.0023, .8856], [.0025, .8897],
  [.0028, .8935], [.0030, .8873], [.0033, .8912], [.0035, .8966], [.0038, .8894], [.0040, .8927],
  [.0043, .8859], [.0045, .8905], [.0048, .8948], [.0050, .8882], [.0053, .8921], [.0055, .8868],
  [.0058, .8909], [.0060, .8954], [.0063, .8887], [.0065, .8923], [.0068, .8862], [.0070, .8901],
  [.0073, .8939], [.0075, .8876], [.0078, .8916], [.0080, .8957], [.0083, .8885], [.0085, .8928],
  [.0088, .8866], [.0090, .8906], [.0093, .8942], [.0095, .8879], [.0098, .8918], [.0100, .8851],
  [.0103, .8903], [.0105, .8937], [.0108, .8874], [.0110, .8913], [.0113, .8961], [.0115, .8889],
  [.0118, .8925], [.0120, .8858], [.0123, .8907], [.0125, .8946], [.0128, .8882], [.0130, .8919],
  [.0133, .8868], [.0135, .8911], [.0138, .8953], [.0140, .8886], [.0143, .8924], [.0145, .8861],
  [.0148, .8902], [.0150, .8941], [.0153, .8877], [.0155, .8915], [.0158, .8849], [.0160, .8897],
  [.0163, .8934], [.0165, .8871], [.0168, .8909], [.0170, .8952], [.0173, .8884], [.0175, .8922],
  [.0178, .8863], [.0180, .8905], [.0183, .8944], [.0185, .8878], [.0188, .8917], [.0190, .8856],
  [.0193, .8899], [.0195, .8938], [.0198, .8873], [.0200, .8912], [.0203, .8958], [.0205, .8886],
  [.0208, .8924], [.0210, .8859], [.0213, .8903], [.0215, .8941], [.0218, .8879], [.0220, .8918],
  [.0223, .8864], [.0225, .8907], [.0228, .8949], [.0230, .8882], [.0233, .8926], [.0235, .8853],
  [.0238, .8898], [.0240, .8937], [.0243, .8874], [.0245, .8913], [.0248, .8828], [.0250, .8891],
  [.0253, .8946], [.0255, .8868], [.0258, .8921], [.0260, .8849], [.0263, .8904], [.0265, .8957],
  [.0268, .8872], [.0270, .8916], [.0273, .8839], [.0275, .8896], [.0278, .8964], [.0280, .8887],
  [.0283, .8923], [.0285, .8861], [.0288, .8979], [.0290, .8908], [.0293, .8816], [.0295, .8942],
  [.0298, .8875], [.0300, .8989],
  [-.0197, .8786], [-.0172, .8826], [-.0141, .8831], [-.0100, .8836], [-.0078, .8812], [-.0027, .8808],
  [.0002, .8818], [-.0180, .8983], [-.0151, .8972], [-.0066, .8975], [.0040, .8985], [.0083, .8961],
  [.0112, .8834], [.0205, .8826], [.0244, .8806], [.0289, .8801], [.0299, .8823], [.0252, .8985],
  [-.02105, .8894], [-.02055, .8921], [-.02005, .8867], [-.01955, .8912], [-.01905, .8946], [-.01855, .8878],
  [-.01805, .8903], [-.01755, .8936], [-.01705, .8861], [-.01655, .8917], [-.01605, .8889], [-.01555, .8951],
  [-.01505, .8872], [-.01455, .8913], [-.01405, .8939], [-.01355, .8866], [-.01305, .8901], [-.01255, .8928],
  [-.01205, .8859], [-.01155, .8895], [-.01105, .8943], [-.01055, .8879], [-.01005, .8911], [-.00955, .8927],
  [-.00905, .8864], [-.00855, .8906], [-.00805, .8941], [-.00755, .8887], [-.00705, .8915], [-.00655, .8869],
  [-.00605, .8932], [-.00555, .8898], [-.00505, .8873], [-.00455, .8919], [-.00405, .8944], [-.00355, .8881],
  [-.00305, .8907], [-.00255, .8862], [-.00205, .8926], [-.00155, .8893], [-.00105, .8918], [-.00055, .8871],
  [-.00005, .8939], [.00045, .8901], [.00095, .8877], [.00145, .8915], [.00195, .8934], [.00245, .8868],
  [.00295, .8906], [.00345, .8929], [.00395, .8883], [.00445, .8912], [.00495, .8869], [.00545, .8938],
  [.00595, .8894], [.00645, .8917], [.00695, .8875], [.00745, .8903], [.00795, .8931], [.00845, .8886],
  [.00895, .8914], [.00945, .8867], [.00995, .8922], [.01045, .8889], [.01095, .8945], [.01145, .8873],
  [.01195, .8906], [.01245, .8929], [.01295, .8862], [.01345, .8898], [.01395, .8921], [.01445, .8884],
  [.01495, .8913], [.01545, .8859], [.01595, .8927], [.01645, .8891], [.01695, .8916], [.01745, .8872],
  [.01795, .8938], [.01845, .8897], [.01895, .8869], [.01945, .8924], [.01995, .8889], [.02045, .8911],
  [.02095, .8854], [.02145, .8902], [.02195, .8933], [.02245, .8878], [.02295, .8914], [.02345, .8866],
  [.02395, .8925], [.02445, .8893], [.02495, .8847], [.02545, .8908], [.02595, .8877], [.02645, .8936],
  [.02695, .8858], [.02745, .8919], [.02795, .8884], [.02845, .8948], [.02895, .8862], [.02945, .8911],
  [.02995, .8931],
];

const resEulerCam: number[][] = [
  [-.0141, .8712], [-.0138, .8718], [-.0135, .8706], [-.0132, .8693], [-.0129, .8689], [-.0126, .8697],
  [-.0123, .8703], [-.0120, .8691], [-.0117, .8709], [-.0114, .8698], [-.0111, .8714], [-.0108, .8702],
  [-.0105, .8694], [-.0102, .8711], [-.0099, .8705], [-.0096, .8719], [-.0093, .8707], [-.0090, .8696],
  [-.0087, .8712], [-.0084, .8723], [-.0081, .8704], [-.0078, .8695], [-.0075, .8709], [-.0072, .8701],
  [-.0069, .8688], [-.0066, .8703], [-.0063, .8697], [-.0060, .8711], [-.0057, .8694], [-.0054, .8683],
  [-.0051, .8699], [-.0048, .8706], [-.0045, .8692], [-.0042, .8689], [-.0039, .8701], [-.0036, .8708],
  [-.0033, .8695], [-.0030, .8686], [-.0027, .8698], [-.0024, .8704], [-.0021, .8691], [-.0018, .8699],
  [-.0015, .8712], [-.0012, .8702], [-.0009, .8693], [-.0006, .8701], [-.0003, .8697], [0, .8699],
  [.0003, .8687], [.0006, .8694], [.0009, .8702], [.0012, .8691], [.0015, .8698], [.0018, .8706],
  [.0021, .8696], [.0024, .8689], [.0027, .8703], [.0030, .8711], [.0033, .8699], [.0036, .8693],
  [.0039, .8705], [.0042, .8696], [.0045, .8688], [.0048, .8701], [.0051, .8708], [.0054, .8697],
  [.0057, .8703], [.0060, .8691], [.0063, .8699], [.0066, .8706], [.0069, .8694], [.0072, .8702],
  [.0075, .8709], [.0078, .8697], [.0081, .8692], [.0084, .8705], [.0087, .8699], [.0090, .8711],
  [.0093, .8703], [.0096, .8694], [.0099, .8701], [.0102, .8698], [.0105, .8689], [.0108, .8702],
  [.0111, .8707], [.0114, .8695], [.0117, .8703], [.0120, .8698], [.0123, .8679], [.0126, .8701],
  [.0129, .8692], [.0132, .8705], [.0135, .8699], [.0138, .8694], [.0141, .8708], [.0144, .8701],
  [.0147, .8696], [.0150, .8716], [.0153, .8703], [.0156, .8708], [.0159, .8699], [.0162, .8711],
  [.0165, .8704], [.0168, .8709], [.0171, .8701], [.0174, .8706], [.0177, .8712], [.0180, .8703],
  [.0183, .8694], [.0186, .8707], [.0189, .8698], [.0192, .8709], [.0195, .8702], [.0198, .8696],
  [.0201, .8699], [.0204, .8703], [.0207, .8708], [.0210, .8697], [.0213, .8701], [.0216, .8691],
  [.0219, .8699], [.0222, .8704], [.0225, .8698], [.0228, .8706], [.0231, .8701], [.0234, .8709],
  [.0237, .8697], [.0240, .8703], [.0243, .8699], [.0246, .8713], [.0249, .8702], [.0252, .8696],
  [.0255, .8706], [.0258, .8699], [.0261, .8704], [.0264, .8693], [.0267, .8701], [.0270, .8698],
  [.0273, .8703], [.0276, .8697], [.0279, .8701], [.0282, .8699], [.0285, .8704], [.0288, .8696],
  [.0291, .8701], [.0294, .8699], [.0297, .8702], [.0300, .8688],
  [-.0060, .8667], [-.0082, .8734], [.0118, .8668], [.0150, .8724], [.0254, .8719], [.0297, .8671],
  [-.0110, .8722], [-.0101, .8716],
  [-.01245, .8702], [-.01065, .8698], [-.00885, .8705], [-.00705, .8696], [-.00525, .8703], [-.00345, .8699],
  [-.00165, .8694], [.00015, .8704], [.00195, .8701], [.00375, .8697], [.00555, .8706], [.00735, .8699],
  [.00915, .8703], [.01095, .8696], [.01275, .8704], [.01455, .8701], [.01635, .8706], [.01815, .8699],
  [.01995, .8703], [.02175, .8697], [.02355, .8705], [.02535, .8699], [.02715, .8702], [.02895, .8698],
];

const pointColor = "#bd1c19";
const modelColor = "#2a36f0";
const axisColor = "#222";

export default function App() {
  const ref = useRef<HTMLDivElement>(null);

  useEffect(() => {
    if (!ref.current) return;
    const chart = echarts.init(ref.current, undefined, { renderer: "svg" });

    const serifLabel = {
      fontFamily: "'Liberation Serif', 'DejaVu Serif', serif",
      fontSize: 19,
      color: "#1a1a1a",
    };
    const fmt = (v: number) => (v < -1e-9 ? "\u2212" : "") + Math.abs(v).toFixed(2);

    const gridBox = { left: 88, right: 17, top: 7, bottom: 36 };

    const scatter = (data: number[][]) => ({
      type: "scatter",
      xAxisIndex: 0,
      yAxisIndex: 0,
      data,
      symbol: "circle",
      symbolSize: 4.6,
      itemStyle: { color: pointColor },
      silent: true,
      z: 3,
    });
    const modelLine = (data: number[][]) => ({
      type: "line",
      xAxisIndex: 0,
      yAxisIndex: 0,
      data,
      showSymbol: false,
      smooth: 0.25,
      smoothMonotone: "x",
      lineStyle: { color: modelColor, width: 1.8 },
      silent: true,
      z: 5,
    });
    const baseline = (level: number) => ({
      type: "line",
      xAxisIndex: 0,
      yAxisIndex: 0,
      data: [
        [baselineStart, level],
        [xMax, level],
      ],
      showSymbol: false,
      lineStyle: { color: "#8a8a8a", width: 1, type: [1.5, 3] },
      silent: true,
      z: 2,
    });

    const tickStyle = { color: "#333", width: 1.2 };
    const lineStyle = { color: axisColor, width: 1.6 };

    const option: any = {
      animation: false,
      backgroundColor: "#ffffff",
      grid: [
        { ...gridBox, containLabel: false },
        { ...gridBox, containLabel: false },
      ],
      xAxis: [
        {
          gridIndex: 0,
          type: "value",
          position: "bottom",
          min: xMin,
          max: xMax,
          interval: xMajor,
          axisLine: { show: true, onZero: false, lineStyle },
          axisTick: { show: true, inside: true, length: 16, lineStyle: tickStyle },
          minorTick: { show: true, splitNumber: 5, length: 9, lineStyle: tickStyle },
          axisLabel: { ...serifLabel, margin: 14, formatter: fmt },
          splitLine: { show: false },
        },
        {
          gridIndex: 0,
          type: "value",
          position: "top",
          min: xMin,
          max: xMax,
          interval: xMajor,
          axisLine: { show: true, onZero: false, lineStyle },
          axisTick: { show: true, inside: true, length: 16, lineStyle: tickStyle },
          minorTick: { show: true, splitNumber: 5, length: 9, lineStyle: tickStyle },
          axisLabel: { show: false },
          splitLine: { show: false },
        },
        { gridIndex: 1, type: "value", min: xMin, max: xMax, show: false, axisLine: { onZero: false } },
      ],
      yAxis: [
        {
          gridIndex: 0,
          type: "value",
          position: "left",
          min: yMin,
          max: yMax,
          splitNumber: 3,
          axisLine: { show: true, onZero: false, lineStyle },
          axisTick: { show: true, inside: true, length: 16, lineStyle: tickStyle },
          axisLabel: { ...serifLabel, margin: 20, formatter: fmt, showMinLabel: false, showMaxLabel: false },
          splitLine: { show: false },
        },
        {
          gridIndex: 0,
          type: "value",
          position: "right",
          min: yMin,
          max: yMax,
          splitNumber: 3,
          axisLine: { show: true, onZero: false, lineStyle },
          axisTick: { show: true, inside: true, length: 16, lineStyle: tickStyle },
          axisLabel: { show: false },
          splitLine: { show: false },
        },
        {
          gridIndex: 1,
          type: "value",
          position: "left",
          min: yMin,
          max: yMax,
          interval: yMinor,
          axisLine: { show: false, onZero: false },
          axisTick: { show: true, inside: true, length: 8, lineStyle: tickStyle },
          axisLabel: { show: false },
          splitLine: { show: false },
        },
        {
          gridIndex: 1,
          type: "value",
          position: "right",
          min: yMin,
          max: yMax,
          interval: yMinor,
          axisLine: { show: false, onZero: false },
          axisTick: { show: true, inside: true, length: 8, lineStyle: tickStyle },
          axisLabel: { show: false },
          splitLine: { show: false },
        },
      ],
      graphic: [
        {
          type: "text",
          x: 100,
          y: 92,
          silent: true,
          style: {
            text: `{a|${labelTop[0]}}{b|${labelTop[1]}}`,
            verticalAlign: "middle",
            rich: {
              a: { fontFamily: "'Liberation Sans', Arial, sans-serif", fontSize: 28, fill: "#111" },
              b: { fontFamily: "'Liberation Sans', Arial, sans-serif", fontSize: 28, fontStyle: "italic", fill: "#111" },
            },
          },
        },
        {
          type: "text",
          x: 105,
          y: 238,
          silent: true,
          style: {
            text: `{a|${labelBottom[0]}}{b|${labelBottom[1]}}`,
            verticalAlign: "middle",
            rich: {
              a: { fontFamily: "'Liberation Sans', Arial, sans-serif", fontSize: 28, fill: "#111" },
              b: { fontFamily: "'Liberation Sans', Arial, sans-serif", fontSize: 28, fontStyle: "italic", fill: "#111" },
            },
          },
        },
        {
          type: "text",
          x: 766,
          y: 36,
          silent: true,
          style: {
            text: panelTag,
            fontFamily: "'Liberation Sans', Arial, sans-serif",
            fontSize: 28,
            fill: "#111",
            verticalAlign: "middle",
            align: "left",
          },
        },
        {
          type: "text",
          x: 24,
          y: 316,
          rotation: Math.PI / 2,
          silent: true,
          style: {
            text: yTitle,
            fontFamily: "'Liberation Sans', Arial, sans-serif",
            fontSize: 22,
            fill: "#111",
            align: "center",
            verticalAlign: "middle",
          },
        },
      ],
      series: [
        ...baselineLevels.map(baseline),
        scatter(trappistZ),
        scatter(middleCurve),
        scatter(eulerCam),
        scatter(resTrappistZ),
        scatter(resMiddle),
        scatter(resEulerCam),
        modelLine(model1),
        modelLine(model2),
        modelLine(model3),
      ],
    };

    chart.setOption(option);
    return () => chart.dispose();
  }, []);

  return (
    <div
      ref={ref}
      style={{ position: "fixed", left: 0, top: 0, width: 825, height: 655, background: "#fff" }}
    />
  );
}
